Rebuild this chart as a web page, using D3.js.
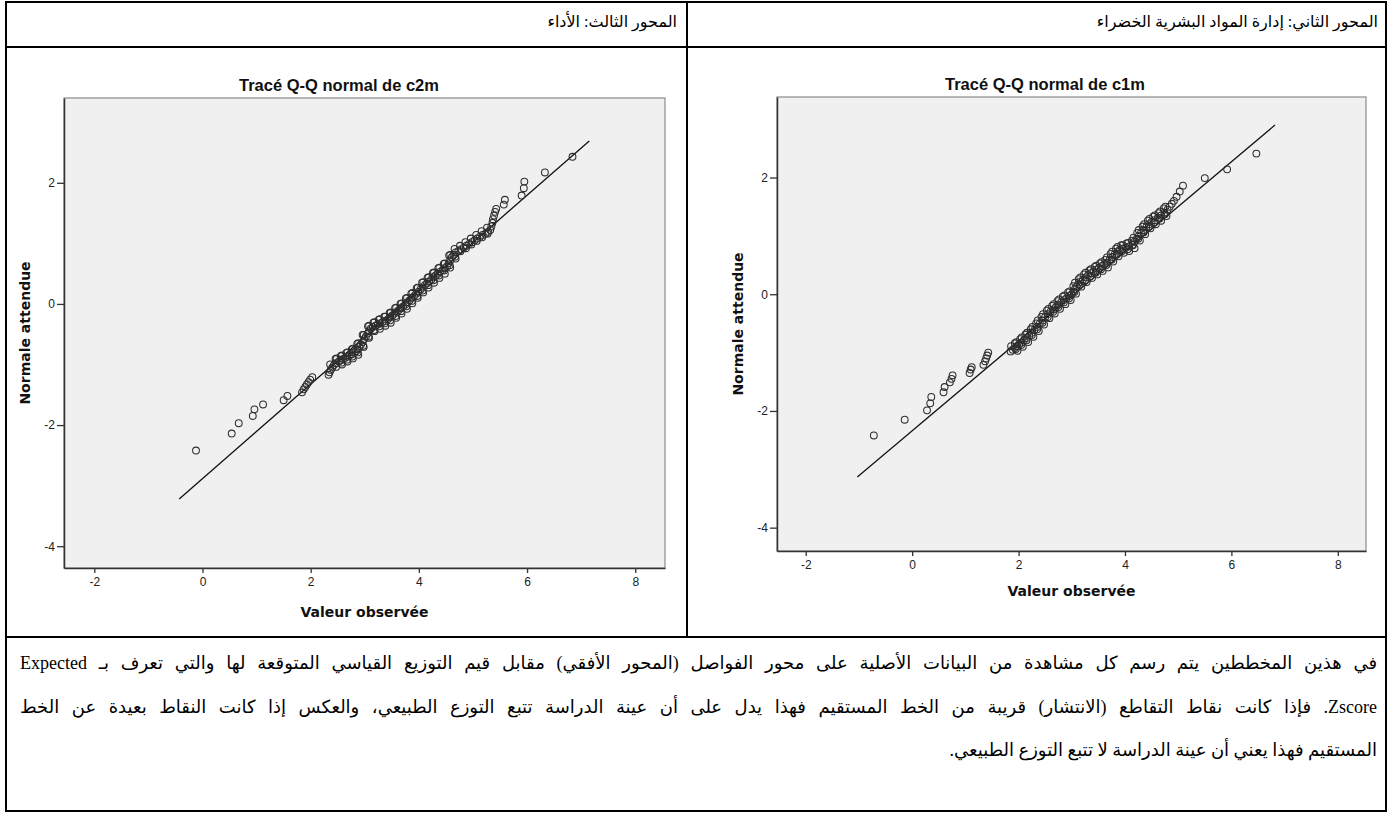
<!DOCTYPE html>
<html>
<head>
<meta charset="utf-8">
<script src="https://cdn.jsdelivr.net/npm/d3@7"></script>
<style>
  html, body { margin: 0; padding: 0; background: #fff; }
  body { width: 1392px; height: 814px; position: relative; overflow: hidden; }
  svg { position: absolute; left: 0; top: 0; }
  .ar { position: absolute; direction: rtl; color: #000;
        font-family: "Liberation Serif", "DejaVu Sans", serif; }
</style>
</head>
<body>
<svg id="page" width="1392" height="814"></svg>
<script>
// ---- texts ----
const headerLabels = ["المحور الثالث: الأداء", "المحور الثاني: إدارة المواد البشرية الخضراء"];
const panelTitles = ["Tracé Q-Q normal de c2m", "Tracé Q-Q normal de c1m"];
const xAxisTitle = "Valeur observée";
const yAxisTitle = "Normale attendue";
const noteLines = [
  "في هذين المخططين يتم رسم كل مشاهدة من البيانات الأصلية على محور الفواصل (المحور الأفقي) مقابل قيم التوزيع القياسي المتوقعة لها والتي تعرف بـ Expected",
  "Zscore. فإذا كانت نقاط التقاطع (الانتشار) قريبة من الخط المستقيم فهذا يدل على أن عينة الدراسة تتبع التوزع الطبيعي، والعكس إذا كانت النقاط بعيدة عن الخط",
  "المستقيم فهذا يعني أن عينة الدراسة لا تتبع التوزع الطبيعي."
];

// ---- tick values ----
const xTickValues = [-2, 0, 2, 4, 6, 8];
const yTickValues = [-4, -2, 0, 2];

// ---- c2m: observed value vs expected normal quantile ----
const c2mObserved = [-0.12,0.54,0.67,0.93,0.96,1.12,1.50,1.57,1.84,1.87,1.90,1.93,1.96,1.99,2.03,
  2.33,2.35,2.37,2.40,2.43,2.47,2.52,2.56,2.60,2.64,2.68,2.72,2.76,2.80,2.84,2.87,2.90,2.93,2.96,2.99,
  3.02,3.05,3.08,3.11,3.15,3.20,3.24,3.28,3.33,3.38,3.43,3.47,3.51,3.55,3.59,3.63,3.67,3.71,3.75,3.79,
  3.83,3.87,3.91,3.95,3.99,4.03,4.07,4.11,4.15,4.19,4.23,4.27,4.31,4.35,4.39,4.44,4.48,4.52,4.55,4.58,
  4.61,4.64,4.68,4.73,4.78,4.83,4.88,4.93,4.98,5.03,5.08,5.13,5.18,5.23,5.28,5.32,5.34,5.36,5.37,5.39,
  5.41,5.43,5.57,5.59,5.90,5.94,5.95,6.33,6.84,
  2.36,2.46,2.56,2.66,2.76,2.86,2.96,3.06,3.16,3.26,3.36,3.46,3.56,3.66,3.76,3.86,3.96,4.06,4.16,4.26,
  4.36,4.46,4.56,4.66,4.76,4.86,4.96,5.06,5.16,5.26,
  2.47,2.57,2.67,2.77,2.87,2.97,3.07,3.17,3.27,3.37,3.47,3.57,3.67,3.77,3.87,3.97,4.07,4.17,4.27,4.37,
  4.47,4.57,4.67,4.77,4.87,4.97,5.07,5.17,5.27,
  2.48,2.58,2.68,2.78,2.88,2.98,3.08,3.18,3.28,3.38,3.48,3.58,3.68,3.78,3.88,3.98,4.08,4.18,4.28,4.38,
  4.48,4.58,
  2.58,2.68,2.78,2.88,2.98,3.08,3.18,3.28,3.38,3.48,3.58,3.68,3.78,3.88,3.98,4.08,4.18,4.28,4.38,4.48,
  4.58,4.68];
const c2mExpected = [-2.42,-2.14,-1.97,-1.85,-1.74,-1.66,-1.59,-1.52,-1.46,-1.41,-1.37,-1.33,-1.29,-1.25,-1.21,
  -1.17,-1.13,-1.09,-1.05,-1.01,-0.98,-0.95,-0.93,-0.91,-0.89,-0.87,-0.85,-0.83,-0.80,-0.78,-0.75,-0.71,-0.67,-0.63,-0.58,
  -0.54,-0.49,-0.45,-0.41,-0.38,-0.36,-0.34,-0.32,-0.30,-0.28,-0.25,-0.22,-0.19,-0.16,-0.13,-0.10,-0.07,-0.04,-0.01,0.03,
  0.06,0.10,0.13,0.17,0.20,0.24,0.27,0.31,0.34,0.37,0.40,0.44,0.47,0.50,0.53,0.56,0.59,0.62,0.67,0.72,
  0.77,0.81,0.85,0.87,0.90,0.93,0.96,0.99,1.02,1.05,1.08,1.11,1.14,1.16,1.19,1.22,1.28,1.34,1.40,1.46,
  1.52,1.57,1.64,1.72,1.79,1.91,2.02,2.17,2.43,
  -1.00,-0.91,-0.86,-0.81,-0.75,-0.66,-0.51,-0.37,-0.31,-0.26,-0.21,-0.15,-0.07,0.00,0.09,0.17,0.26,0.35,0.43,0.51,
  0.59,0.66,0.80,0.91,0.96,1.02,1.08,1.14,1.20,1.26,
  -1.04,-0.97,-0.92,-0.87,-0.80,-0.69,-0.54,-0.43,-0.37,-0.32,-0.27,-0.20,-0.12,-0.04,0.05,0.13,0.22,0.31,0.39,0.47,
  0.55,0.64,0.78,0.87,0.92,0.98,1.04,1.10,1.16,
  -0.90,-0.85,-0.80,-0.74,-0.65,-0.51,-0.36,-0.30,-0.25,-0.21,-0.14,-0.06,0.01,0.10,0.18,0.27,0.36,0.44,0.52,0.60,
  0.67,0.81,
  -1.00,-0.95,-0.90,-0.84,-0.71,-0.56,-0.45,-0.41,-0.36,-0.31,-0.23,-0.16,-0.08,0.01,0.10,0.19,0.27,0.35,0.43,0.50,
  0.60,0.75];
const c2mLineX = [-0.43, 7.15];
const c2mLineY = [-3.22, 2.69];

// ---- c1m: observed value vs expected normal quantile ----
const c1mObserved = [-0.72,-0.14,0.28,0.34,0.36,0.59,0.61,0.71,0.74,0.76,1.08,1.10,1.12,1.34,1.37,1.39,1.41,1.43,
  1.85,1.89,1.93,1.97,2.01,2.05,2.10,2.15,2.20,2.25,2.30,2.35,2.40,2.45,2.50,2.55,2.60,2.65,2.70,2.75,2.80,
  2.85,2.90,2.95,3.00,3.03,3.06,3.09,3.12,3.16,3.21,3.26,3.31,3.36,3.41,3.46,3.51,3.56,3.61,3.66,3.71,3.76,
  3.81,3.86,3.90,3.96,4.02,4.08,4.14,4.18,4.22,4.26,4.30,4.35,4.40,4.45,4.50,4.56,4.62,4.68,4.74,4.80,
  4.84,4.88,4.92,4.97,5.03,5.09,5.50,5.92,6.47,
  1.86,1.96,2.06,2.16,2.26,2.36,2.46,2.56,2.66,2.76,2.86,2.96,3.06,3.16,3.26,3.36,3.46,3.56,3.66,3.76,
  3.86,3.96,4.06,4.16,4.26,4.36,4.46,4.56,4.66,4.76,
  1.95,2.05,2.15,2.25,2.35,2.45,2.55,2.65,2.75,2.85,2.95,3.05,3.15,3.25,3.35,3.45,3.55,3.65,3.75,3.85,
  3.95,4.05,4.15,4.25,4.35,4.45,4.55,4.65,4.75,
  1.93,2.03,2.13,2.23,2.33,2.43,2.53,2.63,2.73,2.83,2.93,3.03,3.13,3.23,3.33,3.43,3.53,3.63,3.73,3.83,
  3.93,4.03,4.13,4.23,4.33,4.43,4.53,4.63,4.73,
  1.98,2.08,2.18,2.28,2.38,2.48,2.58,2.68,2.78,2.88,2.98,3.08,3.18,3.28,3.38,3.48,3.58,3.68,3.78,3.88,
  3.98,4.08,4.18,4.28,4.38,4.48,4.58,4.68,4.78];
const c1mExpected = [-2.42,-2.15,-1.99,-1.87,-1.76,-1.68,-1.59,-1.51,-1.45,-1.39,-1.35,-1.29,-1.25,-1.21,-1.15,-1.10,-1.05,-1.00,
  -0.98,-0.95,-0.92,-0.89,-0.86,-0.83,-0.79,-0.75,-0.71,-0.66,-0.61,-0.56,-0.50,-0.45,-0.39,-0.34,-0.30,-0.26,-0.22,-0.18,-0.14,
  -0.10,-0.07,-0.03,0.00,0.05,0.09,0.13,0.17,0.21,0.25,0.29,0.33,0.36,0.39,0.42,0.45,0.48,0.51,0.54,0.59,0.64,
  0.69,0.73,0.76,0.78,0.80,0.82,0.85,0.90,0.95,1.00,1.05,1.10,1.15,1.20,1.24,1.27,1.31,1.35,1.40,1.45,
  1.50,1.55,1.60,1.67,1.76,1.86,1.99,2.14,2.41,
  -0.89,-0.82,-0.74,-0.66,-0.56,-0.45,-0.34,-0.25,-0.17,-0.09,-0.02,0.05,0.20,0.29,0.37,0.43,0.49,0.55,0.63,0.73,
  0.81,0.84,0.88,0.97,1.10,1.20,1.29,1.35,1.42,1.50,
  -0.94,-0.87,-0.79,-0.70,-0.60,-0.49,-0.39,-0.30,-0.22,-0.14,-0.07,0.04,0.16,0.24,0.31,0.37,0.43,0.50,0.59,0.68,
  0.74,0.77,0.84,0.95,1.06,1.16,1.23,1.30,1.37,
  -0.84,-0.77,-0.69,-0.60,-0.50,-0.39,-0.28,-0.20,-0.12,-0.04,0.03,0.14,0.26,0.34,0.41,0.47,0.53,0.59,0.69,0.78,
  0.84,0.87,0.92,1.05,1.16,1.26,1.33,1.39,1.47,
  -0.97,-0.90,-0.82,-0.73,-0.63,-0.52,-0.41,-0.33,-0.25,-0.17,-0.10,0.01,0.13,0.21,0.28,0.34,0.40,0.46,0.56,0.65,
  0.71,0.74,0.79,0.92,1.03,1.13,1.20,1.26,1.34];
const c1mLineX = [-1.03, 6.82];
const c1mLineY = [-3.13, 2.90];

// ---- layout ----
const svg = d3.select("#page");

// table grid
const grid = svg.append("g").attr("stroke", "#000").attr("stroke-width", 2).attr("fill", "none");
grid.append("rect").attr("x", 6).attr("y", 2).attr("width", 1380).attr("height", 809);
[[6, 47, 1386, 47], [6, 637, 1386, 637], [687, 2, 687, 637]].forEach(([x1, y1, x2, y2]) =>
  grid.append("line").attr("x1", x1).attr("y1", y1).attr("x2", x2).attr("y2", y2));

const panels = [
  { title: panelTitles[0], obs: c2mObserved, exp: c2mExpected, lx: c2mLineX, ly: c2mLineY,
    left: 64, right: 665, top: 98, bottom: 568, xDomain: [-2.56, 8.55], yDomain: [-4.36, 3.40],
    titleX: 339, titleY: 91, xTitleY: 617, yTitleX: 30 },
  { title: panelTitles[1], obs: c1mObserved, exp: c1mExpected, lx: c1mLineX, ly: c1mLineY,
    left: 777, right: 1366, top: 97, bottom: 551, xDomain: [-2.54, 8.53], yDomain: [-4.40, 3.38],
    titleX: 1045, titleY: 90, xTitleY: 596, yTitleX: 743 }
];

panels.forEach(p => {
  const x = d3.scaleLinear().domain(p.xDomain).range([p.left, p.right]);
  const y = d3.scaleLinear().domain(p.yDomain).range([p.bottom, p.top]);
  const g = svg.append("g");

  g.append("rect")
    .attr("x", p.left).attr("y", p.top)
    .attr("width", p.right - p.left).attr("height", p.bottom - p.top)
    .attr("fill", "#f0f0f0").attr("stroke", "#8a8a8a").attr("stroke-width", 1.2);

  // reference line
  g.append("line")
    .attr("x1", x(p.lx[0])).attr("y1", y(p.ly[0]))
    .attr("x2", x(p.lx[1])).attr("y2", y(p.ly[1]))
    .attr("stroke", "#111").attr("stroke-width", 1.3);

  // observations
  g.append("g").selectAll("circle")
    .data(d3.zip(p.obs, p.exp))
    .join("circle")
    .attr("cx", d => x(d[0])).attr("cy", d => y(d[1]))
    .attr("r", 3.4)
    .attr("fill", "none").attr("stroke", "#2e2e2e").attr("stroke-width", 1.05);

  const fmt = d => String(d);
  const xAxis = g.append("g").attr("transform", `translate(0,${p.bottom})`)
    .call(d3.axisBottom(x).tickValues(xTickValues).tickFormat(fmt).tickSize(5).tickSizeOuter(0).tickPadding(4));
  const yAxis = g.append("g").attr("transform", `translate(${p.left},0)`)
    .call(d3.axisLeft(y).tickValues(yTickValues).tickFormat(fmt).tickSize(7).tickSizeOuter(0).tickPadding(2));
  [xAxis, yAxis].forEach(a => {
    a.select(".domain").attr("stroke", "#333").attr("stroke-width", 1.5);
    a.selectAll(".tick line").attr("stroke", "#333").attr("stroke-width", 1.3);
    a.selectAll(".tick text").attr("fill", "#222")
      .style("font-family", "'Liberation Sans', Arial, sans-serif").style("font-size", "12px");
  });

  g.append("text").text(p.title)
    .attr("x", p.titleX).attr("y", p.titleY).attr("text-anchor", "middle")
    .style("font-family", "'Liberation Sans', Arial, sans-serif")
    .style("font-size", "16.5px").style("font-weight", "bold").attr("fill", "#111");

  g.append("text").text(xAxisTitle)
    .attr("x", (p.left + p.right) / 2).attr("y", p.xTitleY).attr("text-anchor", "middle")
    .style("font-family", "'DejaVu Sans', sans-serif").style("font-size", "14px")
    .style("font-weight", "bold").attr("fill", "#111");

  g.append("text").text(yAxisTitle)
    .attr("transform", `translate(${p.yTitleX},${(p.top + p.bottom) / 2}) rotate(-90)`)
    .attr("text-anchor", "middle")
    .style("font-family", "'DejaVu Sans', sans-serif").style("font-size", "14px")
    .style("font-weight", "bold").attr("fill", "#111");
});

// header cells
const body = d3.select("body");
[[715, headerLabels[0]], [14, headerLabels[1]]].forEach(([right, label]) => {
  body.append("div").attr("class", "ar").text(label)
    .style("right", right + "px").style("top", "9px")
    .style("font-size", "16px").style("line-height", "26px").style("white-space", "nowrap");
});

// explanatory note, three lines
const lineCenters = [663, 707, 750];
noteLines.forEach((t, i) => {
  const div = body.append("div").attr("class", "ar").text(t)
    .style("left", "20px").style("width", "1357px")
    .style("top", (lineCenters[i] - 15) + "px")
    .style("line-height", "30px")
    .style("text-align", "justify")
    .style("text-align-last", i < 2 ? "justify" : "right");
  let size = 18;
  div.style("font-size", size + "px");
  while (div.node().scrollHeight > 40 && size > 10) {
    size -= 0.5;
    div.style("font-size", size + "px");
  }
});
</script>
</body>
</html>
